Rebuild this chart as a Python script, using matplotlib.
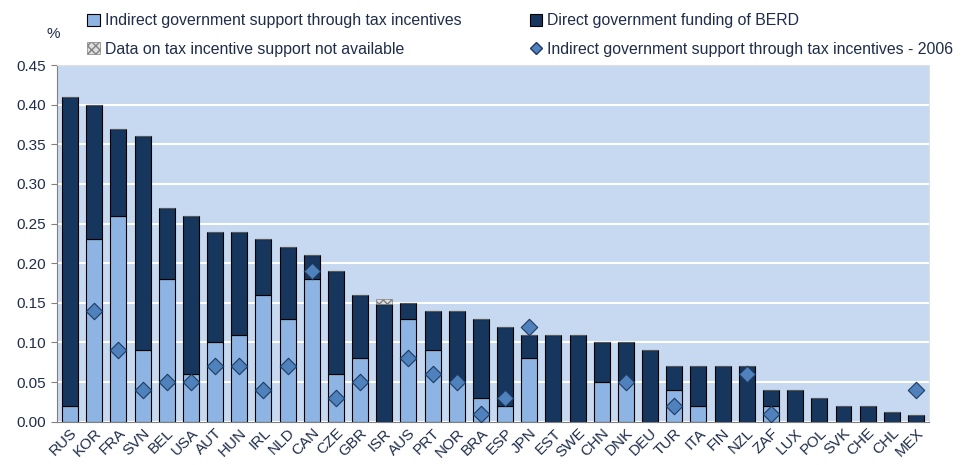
import numpy as np
import matplotlib
matplotlib.use('Agg')
import matplotlib.pyplot as plt
from matplotlib.patches import Patch
from matplotlib.lines import Line2D

plt.rcParams['font.family'] = ['Liberation Sans', 'DejaVu Sans']
plt.rcParams['hatch.color'] = '#808080'

countries = ['RUS', 'KOR', 'FRA', 'SVN', 'BEL', 'USA', 'AUT', 'HUN', 'IRL', 'NLD',
             'CAN', 'CZE', 'GBR', 'ISR', 'AUS', 'PRT', 'NOR', 'BRA', 'ESP', 'JPN',
             'EST', 'SWE', 'CHN', 'DNK', 'DEU', 'TUR', 'ITA', 'FIN', 'NZL', 'ZAF',
             'LUX', 'POL', 'SVK', 'CHE', 'CHL', 'MEX']

# indirect support through tax incentives (light part)
indirect = [0.02, 0.23, 0.26, 0.09, 0.18, 0.06, 0.10, 0.11, 0.16, 0.13,
            0.18, 0.06, 0.08, 0.0, 0.13, 0.09, 0.05, 0.03, 0.02, 0.08,
            0.0, 0.0, 0.05, 0.05, 0.0, 0.04, 0.02, 0.0, 0.0, 0.02,
            0.0, 0.0, 0.0, 0.0, 0.0, 0.0]

# total (indirect + direct)
total = [0.41, 0.40, 0.37, 0.36, 0.27, 0.26, 0.24, 0.24, 0.23, 0.22,
         0.21, 0.19, 0.16, 0.148, 0.15, 0.14, 0.14, 0.13, 0.12, 0.11,
         0.11, 0.11, 0.10, 0.10, 0.09, 0.07, 0.07, 0.07, 0.07, 0.04,
         0.04, 0.03, 0.02, 0.02, 0.012, 0.008]

# data on tax incentives not available (only ISR)
not_avail = [0.0] * 13 + [0.007] + [0.0] * 22

# indirect support 2006 (None = no marker)
ind_2006 = [None, 0.14, 0.09, 0.04, 0.05, 0.05, 0.07, 0.07, 0.04, 0.07,
            0.19, 0.03, 0.05, None, 0.08, 0.06, 0.05, 0.01, 0.03, 0.12,
            None, None, None, 0.05, None, 0.02, None, None, 0.06, 0.01,
            None, None, None, None, None, 0.04]

light = '#8DB4E2'
dark = '#17365D'
diamond = '#4F81BD'
bg = '#C6D9F1'
txt = '#1F2D4A'

indirect = np.array(indirect)
total = np.array(total)
direct = total - indirect
x = np.arange(len(countries))

fig = plt.figure(figsize=(9.62, 4.65), dpi=100)
ax = fig.add_axes([0.059, 0.093, 0.907, 0.767])
ax.set_facecolor(bg)

w = 0.66
ax.bar(x, indirect, w, color=light, edgecolor='black', linewidth=0.8, zorder=2)
ax.bar(x, direct, w, bottom=indirect, color=dark, edgecolor='black', linewidth=0.8, zorder=2)
ax.bar(x, not_avail, w, bottom=total, color='#E0E0E0', edgecolor='#808080',
       hatch='xxxx', linewidth=0.5, zorder=2)

xs = [xi for xi, v in zip(x, ind_2006) if v is not None]
ys = [v for v in ind_2006 if v is not None]
ax.scatter(xs, ys, marker='D', s=70, color=diamond, edgecolor='#1F3A5F',
           linewidth=0.8, zorder=3)

ax.set_xlim(-0.55, len(countries) - 0.45)
ax.set_ylim(0, 0.45)
ax.set_yticks(np.arange(0, 0.451, 0.05))
ax.set_yticklabels([f'{v:.2f}' for v in np.arange(0, 0.451, 0.05)], fontsize=11, color=txt)
ax.yaxis.grid(True, color='white', linewidth=1.5, zorder=1)
ax.set_axisbelow(True)
ax.set_xticks(x)
ax.set_xticklabels(countries, rotation=45, ha='right', rotation_mode='anchor',
                   fontsize=11, color=txt)
ax.tick_params(axis='x', length=0, pad=3)
ax.tick_params(axis='y', length=4, color='#808080', direction='out')
for s in ['top', 'right']:
    ax.spines[s].set_color('#E0E0E0')
for s in ['left', 'bottom']:
    ax.spines[s].set_color('#808080')

fig.text(0.048, 0.918, '%', fontsize=11, color=txt)

handles1 = [Patch(facecolor=light, edgecolor='black', linewidth=0.8),
            Patch(facecolor='#E0E0E0', edgecolor='#808080', hatch='xxxx', linewidth=0.5)]
labels1 = ['Indirect government support through tax incentives',
           'Data on tax incentive support not available']
handles2 = [Patch(facecolor=dark, edgecolor='black', linewidth=0.8),
            Line2D([], [], marker='D', linestyle='none', markersize=6,
                   markerfacecolor=diamond, markeredgecolor='#1F3A5F')]
labels2 = ['Direct government funding of BERD',
           'Indirect government support through tax incentives - 2006']

kw = dict(frameon=False, fontsize=11.4, handlelength=0.8, handleheight=0.8,
          handletextpad=0.3, labelspacing=0.85, borderaxespad=0, labelcolor=txt)
fig.legend(handles1, labels1, loc='upper left', bbox_to_anchor=(0.084, 0.985), **kw)
fig.legend(handles2, labels2, loc='upper left', bbox_to_anchor=(0.544, 0.985), **kw)

fig.savefig('out.png', dpi=100)
